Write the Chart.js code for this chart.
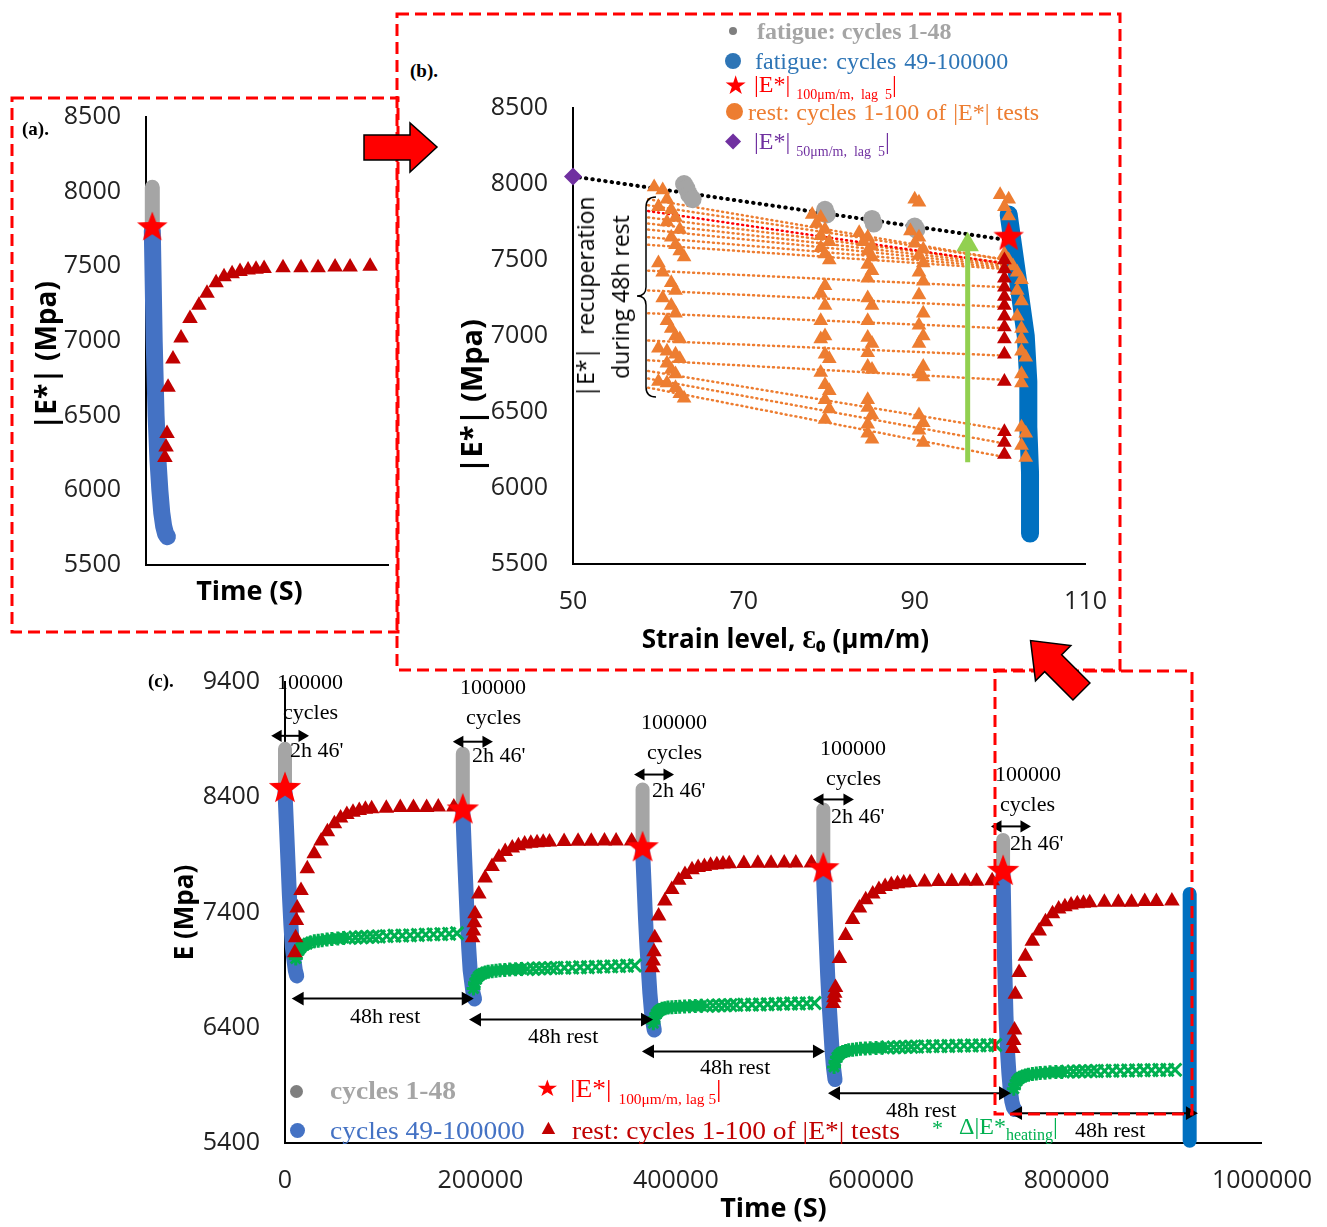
<!DOCTYPE html>
<html>
<head>
<meta charset="utf-8">
<script src="https://cdn.jsdelivr.net/npm/chart.js@4.4.0/dist/chart.umd.min.js"></script>
<style>
  html, body { margin: 0; padding: 0; background: #fff; overflow: hidden; }
  body { width: 1327px; height: 1227px; position: relative; }
  .wrap { position: absolute; }
  .t { position: absolute; font-family: 'Liberation Serif', 'Times New Roman', serif; white-space: nowrap; line-height: 1; color: #000; }
  .n { font-size: 22px; }
  .lg { font-size: 24px; }
  .lc { font-size: 25px; transform: scaleX(1.1); transform-origin: left center; }
  .sub { font-size: 14px; position: relative; top: 7px; }
  .tag { font-size: 19px; font-weight: bold; }
  .dot { position: absolute; border-radius: 50%; }
  svg { position: absolute; left: 0; top: 0; pointer-events: none; }
</style>
</head>
<body>
<div class="wrap" style="left:27px; top:77px; width:376px; height:536px;"><canvas id="ca"></canvas></div>
<div class="wrap" style="left:452px; top:68px; width:678px; height:592px;"><canvas id="cb"></canvas></div>
<div class="wrap" style="left:166px; top:642px; width:1169px; height:588px;"><canvas id="cc"></canvas></div>

<!-- panel tags -->
<div class="t tag" style="left:22px; top:119px;">(a).</div>
<div class="t tag" style="left:410px; top:61px;">(b).</div>
<div class="t tag" style="left:148px; top:671px;">(c).</div>

<!-- (b) legend -->
<div class="dot" style="left:729px; top:27px; width:8px; height:8px; background:#7f7f7f;"></div>
<div class="t lg" style="left:757px; top:19px; color:#A5A5A5; font-weight:bold;">fatigue: cycles 1-48</div>
<div class="dot" style="left:725px; top:53px; width:16px; height:16px; background:#2E75B6;"></div>
<div class="t lg" style="left:755px; top:49px; color:#2E75B6; word-spacing:2px;">fatigue: cycles 49-100000</div>
<div class="t lg" style="left:724px; top:73px; color:#FF0000; font-size:26px;">★</div>
<div class="t lg" style="left:754px; top:72px; color:#FF0000;">|E*| <span class="sub">100μm/m,&nbsp; lag&nbsp; 5</span>|</div>
<div class="dot" style="left:726px; top:103px; width:17px; height:17px; background:#ED7D31;"></div>
<div class="t lg" style="left:748px; top:100px; color:#ED7D31; word-spacing:1px;">rest: cycles 1-100 of |E*| tests</div>
<div class="t lg" style="left:725px; top:130px; color:#7030A0; font-size:21px;">◆</div>
<div class="t lg" style="left:754px; top:129px; color:#7030A0;">|E*| <span class="sub">50μm/m,&nbsp; lag&nbsp; 5</span>|</div>

<!-- (b) bracket text -->
<div class="t" style="left:603px; top:297px; font-family:'Open Sans',sans-serif; font-size:23px; line-height:35px; text-align:center; transform:translate(-50%,-50%) rotate(-90deg);">|E*|&nbsp; recuperation<br>during 48h rest</div>

<!-- (c) cycle notes -->
<div class="t n" style="left:277px; top:671px;">100000</div>
<div class="t n" style="left:283px; top:701px;">cycles</div>
<div class="t n" style="left:290px; top:739px;">2h 46'</div>
<div class="t n" style="left:460px; top:676px;">100000</div>
<div class="t n" style="left:466px; top:706px;">cycles</div>
<div class="t n" style="left:472px; top:744px;">2h 46'</div>
<div class="t n" style="left:641px; top:711px;">100000</div>
<div class="t n" style="left:647px; top:741px;">cycles</div>
<div class="t n" style="left:652px; top:779px;">2h 46'</div>
<div class="t n" style="left:820px; top:737px;">100000</div>
<div class="t n" style="left:826px; top:767px;">cycles</div>
<div class="t n" style="left:831px; top:805px;">2h 46'</div>
<div class="t n" style="left:995px; top:763px;">100000</div>
<div class="t n" style="left:1000px; top:793px;">cycles</div>
<div class="t n" style="left:1010px; top:832px;">2h 46'</div>

<div class="t n" style="left:350px; top:1005px;">48h rest</div>
<div class="t n" style="left:528px; top:1025px;">48h rest</div>
<div class="t n" style="left:700px; top:1056px;">48h rest</div>
<div class="t n" style="left:886px; top:1099px;">48h rest</div>
<div class="t n" style="left:1075px; top:1119px;">48h rest</div>

<!-- (c) legend -->
<div class="dot" style="left:290px; top:1085px; width:13px; height:13px; background:#7f7f7f;"></div>
<div class="t lc" style="left:330px; top:1078px; color:#A5A5A5; font-weight:bold;">cycles 1-48</div>
<div class="dot" style="left:290px; top:1123px; width:15px; height:15px; background:#4472C4;"></div>
<div class="t lc" style="left:330px; top:1118px; color:#4472C4;">cycles 49-100000</div>
<div class="t lc" style="left:536px; top:1077px; color:#FF0000; font-size:23px;">★</div>
<div class="t lc" style="left:570px; top:1076px; color:#FF0000;">|E*| <span class="sub">100μm/m, lag 5</span>|</div>
<div class="t lc" style="left:537px; top:1117px; color:#C00000; font-size:21px;">▲</div>
<div class="t lc" style="left:572px; top:1118px; color:#C00000;">rest: cycles 1-100 of |E*| tests</div>
<div class="t lc" style="left:932px; top:1118px; color:#00B050; font-size:20px;">*</div>
<div class="t" style="left:959px; top:1114px; color:#00B050; font-size:24px;">Δ|E*<span class="sub" style="font-size:16px; top:6px;">heating</span>|</div>

<svg width="1327" height="1227">
  <g fill="none" stroke="#FF0000" stroke-width="3" stroke-dasharray="12 6">
    <rect x="12" y="98" width="386" height="534"/>
    <rect x="397" y="14" width="723" height="656"/>
    <rect x="995" y="671" width="197" height="443"/>
  </g>
  <polygon points="364,135 410,135 410,123 437,147 410,172 410,160 364,160" fill="#FF0000" stroke="#000" stroke-width="1.5"/>
  <g transform="translate(1056,666) rotate(-135)">
    <polygon points="-36,-12 4,-12 4,-25 36,0 4,25 4,12 -36,12" fill="#FF0000" stroke="#000" stroke-width="1.5"/>
  </g>
  <path d="M656 197 Q646 197 646 207 L646 287 Q646 296 637 296 Q646 296 646 305 L646 387 Q646 397 656 397" fill="none" stroke="#000" stroke-width="1.5"/>
</svg>

<script>
// ---------- (c) time history, time in s, modulus in MPa ----------
const cycleStart = [0, 182000, 366000, 551000, 735000];
const grayTop = [8820, 8778, 8467, 8294, 8030];
const starE = [8490, 8303, 7975, 7793, 7770];

const fatigueRelT = [0, 1500, 3000, 4500, 6000, 7500, 9000, 10500, 12000];
const fatigueE = [
  [8450, 8150, 7850, 7550, 7300, 7100, 7000, 6900, 6850],
  [8280, 7950, 7650, 7350, 7100, 6900, 6800, 6700, 6650],
  [7950, 7650, 7350, 7100, 6900, 6700, 6550, 6450, 6380],
  [7770, 7450, 7150, 6850, 6600, 6400, 6200, 6050, 5950],
  [7740, 7000, 6500, 6200, 6000, 5850, 5760, 5710, 5690]
];

const restRelT = [10000, 10900, 11700, 12500, 16400, 22800, 29900, 37000, 43400, 50600, 56900,
  63300, 69600, 76000, 82300, 88700, 103700, 118000, 131500, 145000, 156900, 172800];
const restE = [
  [7050, 7180, 7330, 7440, 7590, 7780, 7910, 8020, 8100, 8170, 8220, 8250, 8270, 8285, 8295, 8300, 8305, 8310, 8310, 8312, 8315, 8315],
  [7180, 7240, 7310, 7390, 7560, 7700, 7800, 7880, 7930, 7960, 7980, 7995, 8000, 8005, 8010, 8012, 8015, 8018, 8018, 8020, 8020, 8020],
  [6920, 6980, 7060, 7180, 7370, 7500, 7600, 7680, 7730, 7770, 7790, 7800, 7810, 7815, 7820, 7822, 7825, 7828, 7828, 7830, 7830, 7830],
  [6610, 6660, 6700, 6750, 7000, 7200, 7340, 7440, 7510, 7560, 7600, 7625, 7640, 7650, 7655, 7660, 7665, 7670, 7670, 7672, 7672, 7675],
  [6220, 6290, 6380, 6690, 6880, 7020, 7150, 7240, 7320, 7390, 7430, 7450, 7465, 7475, 7480, 7485, 7490, 7490, 7490, 7495, 7495, 7500]
];

const heatRelT = [11000, 12500, 14000, 16000, 18000, 20000, 23000, 26000, 30000, 34000, 38000, 43000, 48000, 54000,
  60000, 66000, 72000, 78000, 84000, 90000, 96000, 104000, 112000, 120000, 128000, 136000, 144000, 152000, 160000, 168000, 176000];
const heatE = [
  [7000, 7040, 7070, 7090, 7110, 7120, 7130, 7140, 7150, 7155, 7160, 7165, 7170, 7175, 7178, 7180, 7183, 7185, 7188, 7190, 7192, 7195, 7198, 7200, 7202, 7205, 7208, 7210, 7212, 7215, 7220],
  [6740, 6790, 6820, 6845, 6860, 6870, 6880, 6885, 6890, 6895, 6900, 6902, 6905, 6908, 6910, 6910, 6912, 6915, 6915, 6918, 6920, 6920, 6922, 6925, 6925, 6928, 6930, 6932, 6935, 6938, 6940],
  [6440, 6490, 6520, 6540, 6555, 6565, 6570, 6575, 6578, 6580, 6582, 6584, 6586, 6588, 6590, 6590, 6592, 6594, 6595, 6596, 6598, 6600, 6600, 6602, 6604, 6606, 6608, 6610, 6610, 6612, 6615],
  [6060, 6110, 6145, 6165, 6180, 6190, 6198, 6205, 6210, 6214, 6218, 6220, 6222, 6225, 6227, 6229, 6230, 6232, 6234, 6235, 6236, 6238, 6240, 6241, 6242, 6244, 6245, 6246, 6247, 6248, 6250],
  [5870, 5910, 5935, 5955, 5968, 5978, 5986, 5993, 5998, 6003, 6007, 6010, 6013, 6015, 6017, 6019, 6020, 6022, 6023, 6024, 6025, 6026, 6027, 6028, 6029, 6030, 6031, 6032, 6033, 6034, 6035]
];
const heatDenseUntil = 66000; // asterisks before, plain crosses after

const lastFatigueT = 926000;
const lastFatigueE = [7560, 7000, 6500, 6000, 5500, 5420];

// 48h rest arrows and 2h46' arrows (time span + level)
const restArrowFrom = [15000, 196500, 373600, 564000, 750300];
const restArrowTo = [185000, 368500, 544500, 734900, 926300];
const restArrowE = [6653, 6471, 6195, 5832, 5659];
const shortArrowFrom = [-7000, 179000, 364400, 547600, 729800];
const shortArrowTo = [17400, 205700, 391000, 575200, 756400];
const shortArrowE = [8933, 8882, 8597, 8381, 8147];

// ---------- (b) modulus vs strain level (µm/m) ----------
const e50 = { x: 50, y: 8050 };
const trendEnd = { x: 101, y: 7630 };
const star100 = { x: 101, y: 7660 };
const grayStrain = [63, 63.3, 63.6, 64, 79.5, 79.7, 85, 85.2, 90, 90.2];
const grayMod = [8000, 7970, 7930, 7900, 7830, 7800, 7770, 7740, 7720, 7700];
const blueStrain = [101.0, 101.5, 102.0, 102.5, 103.0, 103.3, 103.3, 103.5, 103.5, 103.5];
const blueMod = [7800, 7600, 7400, 7200, 7000, 6700, 6400, 6100, 5900, 5700];
const restStrain = [
  59.5, 60.5, 61, 60, 61.5, 62, 61, 62.5, 61.5, 62, 62.5, 63, 60, 60.5, 61.5, 62, 60.5, 61.5, 62, 61, 61.5, 62, 62.5, 60, 61, 62, 62.5, 61, 61.5, 62, 60, 61, 62, 62.5, 63,
  78, 79, 78.5, 79.5, 79, 80, 79, 79.5, 80, 79.5, 79, 79.5, 79, 79.5, 79, 79.5, 80, 79, 79.5, 80, 79.5, 80, 79.5,
  83.5, 84.5, 84, 85, 84.5, 85, 84.5, 85, 84.5, 84.5, 85, 84.5, 84.5, 85, 84.5, 84.5, 85, 84.5, 84.5, 85, 84.5, 84.5, 85,
  90, 90.5, 89.5, 90.5, 90, 91, 90.5, 91, 90.5, 91, 90.5, 91, 90.5, 91, 90.5, 91, 90.5, 91, 90.5, 91, 90.5, 91,
  100, 101, 100.5, 101, 100.5, 101, 101.5, 102, 102.5, 102, 102.5, 102, 102.5, 102.5, 102.5, 103, 102.5, 102.5, 102.5, 103, 102.5, 103
];
const restMod = [
  7980, 7960, 7900, 7850, 7830, 7780, 7750, 7700, 7650, 7600, 7560, 7520, 7480, 7420, 7350, 7300, 7250, 7200, 7150, 7100, 7050, 7000, 6980, 6920, 6900, 6880, 6850, 6820, 6780, 6750, 6700, 6690, 6660, 6620, 6590,
  7800, 7780, 7740, 7700, 7660, 7620, 7580, 7540, 7500, 7330, 7280, 7200, 7100, 7000, 6980, 6880, 6850, 6760, 6680, 6640, 6580, 6520, 6450,
  7680, 7650, 7620, 7590, 7560, 7520, 7470, 7430, 7380, 7250, 7200, 7100, 6990, 6950, 6890, 6800, 6780, 6580, 6530, 6480, 6420, 6360, 6320,
  7900, 7880, 7690, 7650, 7610, 7570, 7530, 7480, 7420, 7360, 7270, 7150, 7070, 7000, 6950, 6800, 6750, 6730, 6480, 6430, 6380, 6300,
  7930, 7900, 7850, 7790, 7540, 7500, 7460, 7420, 7370, 7300, 7230, 7130, 7050, 6980, 6900, 6860, 6750, 6690, 6400, 6360, 6280, 6200
];
const lastRestStrain = 100.5;
const lastRestMod = [7500, 7440, 7380, 7320, 7260, 7200, 7130, 7060, 6980, 6880, 6700, 6370, 6300, 6220];
const restTrendFrom = 58.8, restTrendTo = 100.8;
const restTrendLeft = [7900, 7860, 7822, 7780, 7740, 7700, 7650, 7600, 7430, 7300, 7150, 6970, 6840, 6770, 6720, 6660];
const restTrendRight = [7500, 7500, 7475, 7480, 7470, 7460, 7450, 7440, 7320, 7190, 7050, 6870, 6710, 6380, 6290, 6200];
const redTrendIndex = 2;
const recoveryStrain = 96.2;
const recoveryFrom = 6170, recoveryTo = 7580;

Chart.defaults.animation = false;
Chart.defaults.font.family = 'Open Sans';
Chart.defaults.color = '#222';

// titles in the original sit off-centre; trailing blanks push them over
const pad = (s, n) => s + '\u00a0'.repeat(n);

function starImage(size, color) {
  const c = document.createElement('canvas');
  c.width = c.height = size;
  const g = c.getContext('2d');
  const r = size / 2, ri = r * 0.42;
  g.beginPath();
  for (let i = 0; i < 10; i++) {
    const a = -Math.PI / 2 + i * Math.PI / 5;
    const rr = i % 2 ? ri : r;
    g.lineTo(r + rr * Math.cos(a), r + 1.5 + rr * Math.sin(a));
  }
  g.closePath();
  g.fillStyle = color;
  g.fill();
  return c;
}

function yAxis(min, max, step, title, titleSize, width) {
  return {
    min, max,
    ticks: { stepSize: step, padding: 25, font: { size: 25 }, callback: v => v },
    grid: { display: false, drawTicks: false },
    border: { display: true, color: '#000', width: 2 },
    title: { display: true, text: title, color: '#000', font: { size: titleSize, weight: 'bold' } },
    afterFit: s => { s.width = width; }
  };
}

function xAxis(min, max, step, title, titleSize, height, showTicks) {
  return {
    type: 'linear', min, max,
    ticks: { display: showTicks, stepSize: step, padding: 23, maxRotation: 0, font: { size: 25 }, callback: v => v },
    grid: { display: false, drawTicks: false },
    border: { display: true, color: '#000', width: 2 },
    title: { display: true, text: title, color: '#000', font: { size: titleSize, weight: 'bold' } },
    afterFit: s => { s.height = height; }
  };
}

const pts = (xs, ys) => ys.map((y, k) => ({ x: Array.isArray(xs) ? xs[k] : xs, y }));

function baseOptions(x, y, padding) {
  return {
    responsive: true,
    maintainAspectRatio: false,
    layout: { padding },
    plugins: { legend: { display: false }, tooltip: { enabled: false } },
    scales: { x, y }
  };
}

// ---------- chart (c) ----------
const bigStar = starImage(34, '#FF0000');
const cSets = [];
cycleStart.forEach((t0, i) => {
  const rel = fatigueRelT.map(r => t0 + r);
  cSets.push({ data: [{ x: t0, y: grayTop[i] }, { x: t0, y: fatigueE[i][0] }], showLine: true,
    borderColor: '#A5A5A5', borderWidth: 14, borderCapStyle: 'round', pointRadius: 0, order: 6 });
  cSets.push({ data: pts(rel, fatigueE[i]), showLine: true, borderColor: '#4472C4', borderWidth: 15,
    borderCapStyle: 'round', borderJoinStyle: 'round', pointRadius: 0, order: 5 });
  cSets.push({ data: pts(heatRelT.map(r => t0 + r), heatE[i]),
    pointStyle: heatRelT.map(r => (r < heatDenseUntil ? 'star' : 'crossRot')),
    pointRadius: heatRelT.map(r => (r < heatDenseUntil ? 7 : 9)),
    borderColor: '#00B050', borderWidth: 3, order: 3 });
  cSets.push({ data: pts(restRelT.map(r => t0 + r), restE[i]), pointStyle: 'triangle', pointRadius: 9,
    backgroundColor: '#C00000', borderColor: '#C00000', borderWidth: 0, order: 2 });
  cSets.push({ data: [{ x: t0, y: starE[i] }], pointStyle: bigStar, order: 0 });
  cSets.push({ data: [{ x: restArrowFrom[i], y: restArrowE[i] }, { x: restArrowTo[i], y: restArrowE[i] }], showLine: true,
    borderColor: '#000', borderWidth: 2, pointStyle: 'triangle', pointRadius: 6, pointRotation: [-90, 90],
    backgroundColor: '#000', order: 1 });
  cSets.push({ data: [{ x: shortArrowFrom[i], y: shortArrowE[i] }, { x: shortArrowTo[i], y: shortArrowE[i] }], showLine: true,
    borderColor: '#000', borderWidth: 2, pointStyle: 'triangle', pointRadius: 5, pointRotation: [-90, 90],
    backgroundColor: '#000', order: 1 });
});
cSets.push({ data: pts(lastFatigueT, lastFatigueE), showLine: true, borderColor: '#0070C0', borderWidth: 14,
  borderCapStyle: 'round', pointRadius: 0, order: 5 });
cSets.forEach(d => { d.clip = false; });

new Chart(document.getElementById('cc'), {
  type: 'scatter',
  data: { datasets: cSets },
  options: baseOptions(
    xAxis(0, 1000000, 200000, 'Time (S)', 27, 87, true),
    yAxis(5400, 9400, 1000, 'E (Mpa)', 26, 119),
    { top: 20, right: 55, left: 0, bottom: 0 })
});

// ---------- chart (a): zoom on the last sequence ----------
const last = cycleStart.length - 1;
const t5 = cycleStart[last];
const aSets = [
  { data: [{ x: t5, y: grayTop[last] }, { x: t5, y: fatigueE[last][0] }], showLine: true, borderColor: '#A5A5A5',
    borderWidth: 15, borderCapStyle: 'round', pointRadius: 0, order: 6 },
  { data: pts(fatigueRelT.map(r => t5 + r), fatigueE[last]), showLine: true, borderColor: '#4472C4', borderWidth: 17,
    borderCapStyle: 'round', borderJoinStyle: 'round', pointRadius: 0, order: 5 },
  { data: pts(restRelT.map(r => t5 + r), restE[last]), pointStyle: 'triangle', pointRadius: 9,
    backgroundColor: '#C00000', borderColor: '#C00000', borderWidth: 0, order: 2 },
  { data: [{ x: t5, y: starE[last] }], pointStyle: starImage(32, '#FF0000'), order: 0 }
];
aSets.forEach(d => { d.clip = false; });

new Chart(document.getElementById('ca'), {
  type: 'scatter',
  data: { datasets: aSets },
  options: baseOptions(
    xAxis(730000, 922000, 50000, pad('Time (S)', 5), 27, 48, false),
    yAxis(5500, 8500, 500, pad('|E*| (Mpa)', 4), 28, 119),
    { top: 20, right: 15, left: 0, bottom: 0 })
});

// ---------- chart (b) ----------
const bSets = [
  { data: [e50, trendEnd], showLine: true, borderColor: '#000', borderWidth: 4, borderDash: [0.5, 6],
    borderCapStyle: 'round', pointRadius: 0, order: 7 },
  { data: pts(blueStrain, blueMod), showLine: true, borderColor: '#0070C0', borderWidth: 18,
    borderCapStyle: 'round', borderJoinStyle: 'round', pointRadius: 0, order: 5 },
  { data: pts(grayStrain, grayMod), pointStyle: 'circle', pointRadius: 9, backgroundColor: '#A5A5A5',
    borderWidth: 0, order: 4 },
  { data: pts(restStrain, restMod), pointStyle: 'triangle', pointRadius: 8.5, backgroundColor: '#ED7D31',
    borderWidth: 0, order: 3 },
  { data: pts(lastRestStrain, lastRestMod), pointStyle: 'triangle', pointRadius: 8.5, backgroundColor: '#C00000',
    borderWidth: 0, order: 2 },
  { data: [{ x: recoveryStrain, y: recoveryFrom }, { x: recoveryStrain, y: recoveryTo }], showLine: true,
    borderColor: '#92D050', borderWidth: 5, pointRadius: 0, order: 1 },
  { data: [{ x: recoveryStrain, y: recoveryTo + 20 }], pointStyle: 'triangle', pointRadius: 13,
    backgroundColor: '#92D050', borderWidth: 0, order: 1 },
  { data: [e50], pointStyle: 'rectRot', pointRadius: 9, backgroundColor: '#7030A0', borderWidth: 0, order: 0 },
  { data: [star100], pointStyle: starImage(32, '#FF0000'), order: 0 }
];
restTrendLeft.forEach((yl, k) => {
  bSets.push({ data: [{ x: restTrendFrom, y: yl }, { x: restTrendTo, y: restTrendRight[k] }], showLine: true,
    borderColor: k === redTrendIndex ? '#FF0000' : '#ED7D31', borderWidth: 2.5, borderDash: [1, 4],
    borderCapStyle: 'round', pointRadius: 0, order: 6 });
});
bSets.forEach(d => { d.clip = false; });

new Chart(document.getElementById('cb'), {
  type: 'scatter',
  data: { datasets: bSets },
  options: baseOptions(
    xAxis(50, 110, 20, pad('Strain level, Ɛ₀ (μm/m)', 13), 26, 96, true),
    yAxis(5500, 8500, 500, pad('|E*| (Mpa)', 16), 29, 121),
    { top: 27, right: 30, left: 0, bottom: 0 })
});
</script>
</body>
</html>
